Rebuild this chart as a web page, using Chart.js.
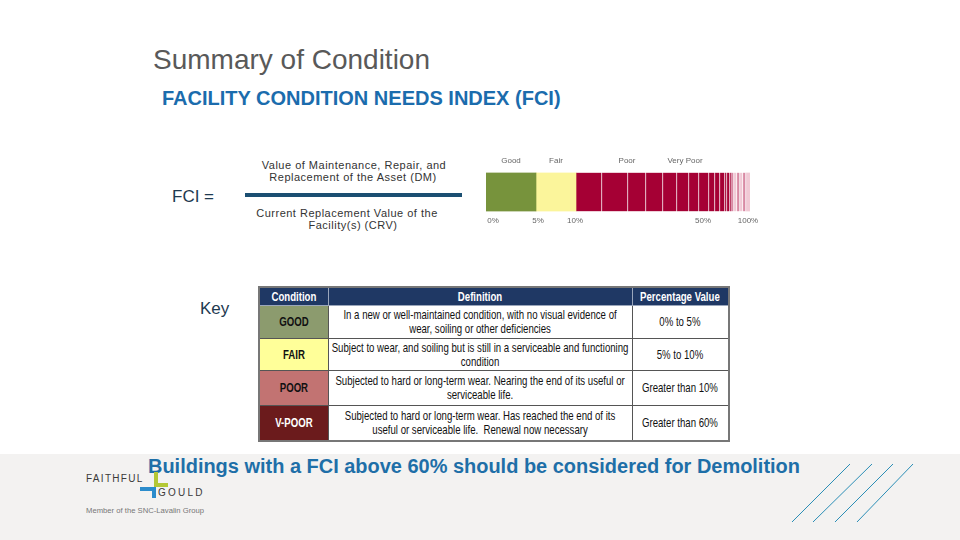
<!DOCTYPE html>
<html lang="en">
<head>
<meta charset="utf-8">
<title>Summary of Condition</title>
<script src="https://cdn.jsdelivr.net/npm/chart.js@4.4.1/dist/chart.umd.min.js"></script>
<style>
  html, body { margin: 0; padding: 0; }
  body { width: 960px; height: 540px; position: relative; overflow: hidden; background: #fff;
         font-family: "Liberation Sans", Arial, sans-serif; }
  .abs { position: absolute; white-space: nowrap; line-height: 1; }
  #title { left: 153px; top: 46px; font-size: 28px; color: #595959; }
  #subtitle { left: 162px; top: 88px; font-size: 20px; font-weight: bold; color: #1b6cad; }
  #fciEq { left: 172px; top: 188px; font-size: 17px; color: #1e3a50; }
  #keyLabel { left: 200px; top: 300px; font-size: 17px; color: #1e3a50; }
  .frac { font-size: 11px; color: #333; text-align: center; width: 240px; letter-spacing: 0.5px; }
  #fracLine { position: absolute; left: 245px; top: 193px; width: 217px; height: 4px; background: #1b4f72; }
  #gauge { position: absolute; left: 476px; top: 149px; }

  #keyTable { position: absolute; left: 258px; top: 286px; width: 470px; border-collapse: collapse; table-layout: fixed;
              font-size: 13px; color: #111; border: 2px solid #777; }
  #keyTable th, #keyTable td { border: 1px solid #555; padding: 0; text-align: center; line-height: 14px; overflow: hidden; }
  #keyTable th { background: #1f3864; color: #fff; height: 17px; border-color: #9aa6bb; font-weight: bold; }
  #keyTable td.cond { font-weight: bold; }
  .ln { white-space: nowrap; transform: scaleX(0.74); width: 136%; margin-left: -18%; }

  #footer { position: absolute; left: 0; top: 454px; width: 960px; height: 86px; background: #f3f2f1; }
  #demolition { left: 148px; top: 456px; font-size: 20px; font-weight: bold; color: #1e6fa8; transform-origin: left top; }
  .logoTxt { color: #3a3a3a; font-size: 10px; }
  .blk { position: absolute; }
</style>
</head>
<body>
<div id="footer"></div>

<div id="title" class="abs">Summary of Condition</div>
<div id="subtitle" class="abs">FACILITY CONDITION NEEDS INDEX (FCI)</div>

<div id="fciEq" class="abs">FCI =</div>
<div class="abs frac" style="left:234px; top:160px;">Value of Maintenance, Repair, and</div>
<div class="abs frac" style="left:233px; top:172px;">Replacement of the Asset (DM)</div>
<div id="fracLine"></div>
<div class="abs frac" style="left:227px; top:208px;">Current Replacement Value of the</div>
<div class="abs frac" style="left:233px; top:220px;">Facility(s) (CRV)</div>

<canvas id="gauge" width="290" height="82"></canvas>

<div id="keyLabel" class="abs">Key</div>
<table id="keyTable">
  <colgroup><col style="width:69px"><col style="width:304px"><col style="width:97px"></colgroup>
  <thead><tr id="keyHead"></tr></thead>
  <tbody id="keyBody"></tbody>
</table>

<div id="demolition" class="abs">Buildings with a FCI above 60% should be considered for Demolition</div>

<!-- логотип -->
<div class="abs logoTxt" style="left:86px; top:474px; letter-spacing:1.3px;">FAITHFUL</div>
<div class="blk" style="left:154px; top:472px; width:4px; height:15px; background:#b4c835;"></div>
<div class="blk" style="left:154px; top:483px; width:14px; height:4px; background:#b4c835;"></div>
<div class="blk" style="left:140px; top:487px; width:16px; height:4px; background:#2b8ccc;"></div>
<div class="blk" style="left:152px; top:487px; width:4px; height:11px; background:#2b8ccc;"></div>
<div class="abs logoTxt" style="left:158px; top:488px; letter-spacing:2.2px;">GOULD</div>
<div id="member" class="abs" style="left:86px; top:507px; font-size:8px; color:#777; transform-origin:left top;">Member of the SNC-Lavalin Group</div>

<svg class="blk" style="left:0; top:0;" width="960" height="540">
  <g stroke="#2b8eb6" stroke-width="1">
    <line x1="792" y1="522" x2="850" y2="464"/>
    <line x1="813" y1="522" x2="872" y2="464"/>
    <line x1="835" y1="522" x2="893" y2="464"/>
    <line x1="857" y1="522" x2="913" y2="464"/>
  </g>
</svg>

<script>
// Шкала FCI: ширина полос слева направо (условные единицы шкалы)
const segmentWidths = [50, 40, 26, 26, 18, 17, 14, 12, 10, 10, 6, 5, 5, 2, 3, 1, 3, 3, 3, 3, 3, 4];
const segmentZones = ['good', 'fair',
  'poor', 'poor', 'poor', 'poor', 'poor', 'poor', 'poor', 'poor', 'poor', 'poor', 'poor', 'poor', 'poor', 'poor',
  'pale1', 'pale2', 'pale1', 'pale2', 'pale1', 'pale2'];

// Подписи под шкалой и над ней
const scaleTickPos = [7, 52, 89, 217, 262];
const scaleTickLabels = ['0%', '5%', '10%', '50%', '100%'];
const zoneLabelPos = [25, 70, 141, 199];
const zoneLabels = ['Good', 'Fair', 'Poor', 'Very Poor'];

// Таблица-ключ
const keyHeaders = ['Condition', 'Definition', 'Percentage Value'];
const keyConditions = ['GOOD', 'FAIR', 'POOR', 'V-POOR'];
const keyDefinitions = [
  ['In a new or well-maintained condition, with no visual evidence of', 'wear, soiling or other deficiencies'],
  ['Subject to wear, and soiling but is still in a serviceable and functioning', 'condition'],
  ['Subjected to hard or long-term wear. Nearing the end of its useful or', 'serviceable life.'],
  ['Subjected to hard or long-term wear. Has reached the end of its', 'useful or serviceable life.\u00a0 Renewal now necessary']
];
const keyPercent = ['0% to 5%', '5% to 10%', 'Greater than 10%', 'Greater than 60%'];

const zoneColors = { good: '#77933c', fair: '#fbf59b', poor: '#a50034', pale1: '#d88aa4', pale2: '#f1c9d5' };
const keyColors = ['#8c9b6e', '#ffff99', '#c27372', '#6b1b1c'];
const keyRowHeights = [33, 32, 35, 35];

const ln = t => `<div class="ln">${t}</div>`;

function buildKey() {
  document.getElementById('keyHead').innerHTML = keyHeaders.map(h => `<th>${ln(h)}</th>`).join('');
  const body = document.getElementById('keyBody');
  keyConditions.forEach((c, i) => {
    const tr = document.createElement('tr');
    tr.style.height = keyRowHeights[i] + 'px';
    const txt = i === 3 ? '#fff' : '#111';
    tr.innerHTML = `<td class="cond" style="background:${keyColors[i]};color:${txt}">${ln(c)}</td>` +
      `<td>${keyDefinitions[i].map(ln).join('')}</td><td>${ln(keyPercent[i])}</td>`;
    body.appendChild(tr);
  });
}

function initGauge() {
  const total = segmentWidths.reduce((a, b) => a + b, 0);
  const last = segmentWidths.length - 1;
  const tickFont = { size: 8, family: '"Liberation Sans", Arial, sans-serif' };

  new Chart(document.getElementById('gauge'), {
    type: 'bar',
    data: {
      labels: [''],
      datasets: segmentWidths.map((w, i) => ({
        data: [w],
        backgroundColor: zoneColors[segmentZones[i]],
        borderColor: '#ffffff',
        borderWidth: (i >= 2 && i < last) ? { left: 0, right: 1, top: 0, bottom: 0 } : 0,
        borderSkipped: false,
        barPercentage: 1,
        categoryPercentage: 1
      }))
    },
    options: {
      indexAxis: 'y',
      responsive: false,
      animation: false,
      layout: { padding: { left: 10, right: 16, top: 0, bottom: 0 } },
      plugins: { legend: { display: false }, tooltip: { enabled: false } },
      scales: {
        x: {
          type: 'linear', stacked: true, min: 0, max: total, position: 'bottom',
          grid: { display: false, drawTicks: false }, border: { display: false },
          afterBuildTicks: s => { s.ticks = scaleTickPos.map(v => ({ value: v })); },
          ticks: { autoSkip: false, maxRotation: 0, padding: 5, font: tickFont, color: '#666',
                   callback: (v, i) => scaleTickLabels[i] }
        },
        xTop: {
          type: 'linear', min: 0, max: total, position: 'top',
          grid: { display: false, drawTicks: false }, border: { display: false },
          afterBuildTicks: s => { s.ticks = zoneLabelPos.map(v => ({ value: v })); },
          ticks: { autoSkip: false, maxRotation: 0, padding: 7, font: tickFont, color: '#666',
                   callback: (v, i) => zoneLabels[i] }
        },
        y: { stacked: true, display: false }
      }
    }
  });
}

// Подгонка ширины строк текста
function fitWidth(id, w) {
  const el = document.getElementById(id);
  const r = el.getBoundingClientRect().width;
  el.style.transform = `scaleX(${w / r})`;
}

buildKey();
initGauge();
fitWidth('demolition', 652);
fitWidth('member', 118);
</script>
</body>
</html>
